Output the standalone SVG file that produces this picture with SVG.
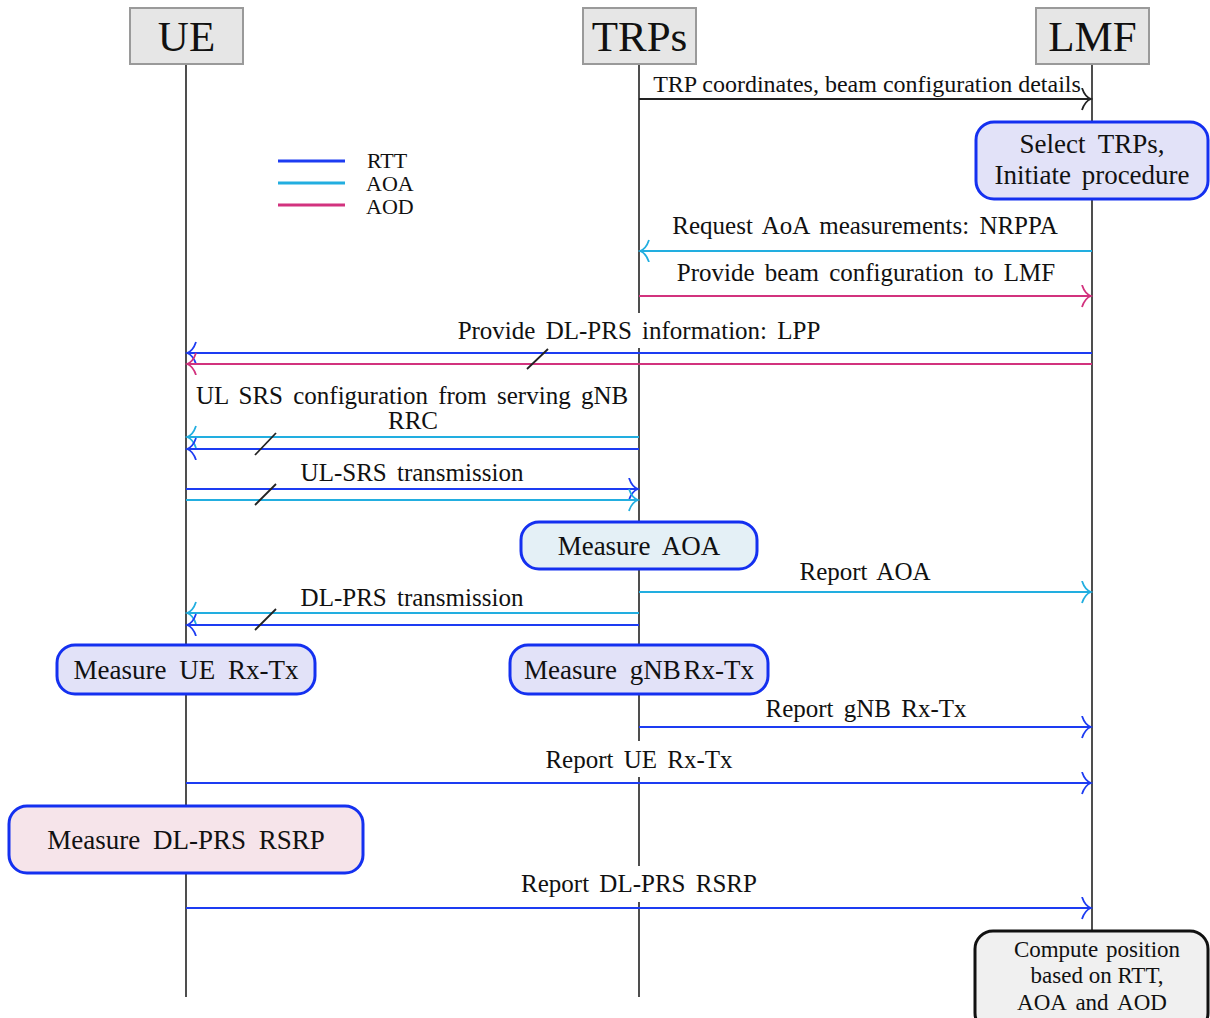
<svg xmlns="http://www.w3.org/2000/svg" width="1210" height="1018" viewBox="0 0 1210 1018">
  <style>
    text { font-family: "Liberation Serif", "Times New Roman", serif; fill: #111; }
    .hdr rect { fill: #e6e6e6; stroke: #9a9a9a; stroke-width: 2; }
    .hdr text { font-size: 43px; text-anchor: middle; }
    .life { stroke: #222; stroke-width: 1.6; fill: none; }
    .lbl { font-size: 25px; text-anchor: middle; word-spacing: 4px; }
    .bg { fill: #ffffff; stroke: none; }
    .msg { fill: none; stroke-width: 2; }
    .rtt { stroke: #1d3cf2; }
    .aoa { stroke: #22aee0; }
    .aod { stroke: #d2327e; }
    .blk { stroke: #222; }
    .slash { stroke: #222; stroke-width: 1.8; }
    .proc rect { stroke: #1430f0; stroke-width: 3; }
    .proc text { font-size: 27px; text-anchor: middle; word-spacing: 6px; }
    .note text { font-size: 23px; text-anchor: middle; word-spacing: 2px; }
  </style>
  <defs>
    <marker id="ah-blk" markerWidth="12" markerHeight="24" refX="10" refY="11" orient="auto" markerUnits="userSpaceOnUse">
      <path d="M1 0 Q4 9 10 11 Q4 13 1 22" fill="none" stroke="#222" stroke-width="1.8"/>
    </marker>
    <marker id="ah-rtt" markerWidth="12" markerHeight="24" refX="10" refY="11" orient="auto" markerUnits="userSpaceOnUse">
      <path d="M1 0 Q4 9 10 11 Q4 13 1 22" fill="none" stroke="#1d3cf2" stroke-width="1.8"/>
    </marker>
    <marker id="ah-aoa" markerWidth="12" markerHeight="24" refX="10" refY="11" orient="auto" markerUnits="userSpaceOnUse">
      <path d="M1 0 Q4 9 10 11 Q4 13 1 22" fill="none" stroke="#22aee0" stroke-width="1.8"/>
    </marker>
    <marker id="ah-aod" markerWidth="12" markerHeight="24" refX="10" refY="11" orient="auto" markerUnits="userSpaceOnUse">
      <path d="M1 0 Q4 9 10 11 Q4 13 1 22" fill="none" stroke="#d2327e" stroke-width="1.8"/>
    </marker>
  </defs>

  <!-- lifelines -->
  <g id="lifelines">
    <line class="life" x1="186" y1="64" x2="186" y2="997"/>
    <line class="life" x1="639" y1="64" x2="639" y2="997"/>
    <line class="life" x1="1092" y1="64" x2="1092" y2="1018"/>
  </g>

  <!-- participants -->
  <g id="ue" class="hdr">
    <rect x="130" y="8" width="113" height="56"/>
    <text x="186.5" y="51">UE</text>
  </g>
  <g id="trps" class="hdr">
    <rect x="583" y="8" width="113" height="56"/>
    <text x="639.5" y="51">TRPs</text>
  </g>
  <g id="lmf" class="hdr">
    <rect x="1036" y="8" width="113" height="56"/>
    <text x="1092.5" y="51">LMF</text>
  </g>

  <!-- legend -->
  <g id="legend">
    <line x1="278" y1="161" x2="345" y2="161" stroke="#1d3cf2" stroke-width="3"/>
    <line x1="278" y1="183" x2="345" y2="183" stroke="#22aee0" stroke-width="3"/>
    <line x1="278" y1="205" x2="345" y2="205" stroke="#d2327e" stroke-width="3"/>
    <text x="367" y="168" font-size="22">RTT</text>
    <text x="366" y="191" font-size="22">AOA</text>
    <text x="366" y="214" font-size="22">AOD</text>
  </g>

  <!-- messages -->
  <g id="connectors">
    <line class="msg blk" x1="639" y1="99" x2="1091" y2="99" marker-end="url(#ah-blk)"/>
    <line class="msg aoa" x1="1092" y1="251" x2="640" y2="251" marker-end="url(#ah-aoa)"/>
    <line class="msg aod" x1="639" y1="296" x2="1091" y2="296" marker-end="url(#ah-aod)"/>

    <line class="msg rtt" x1="1092" y1="353" x2="187" y2="353" marker-end="url(#ah-rtt)"/>
    <line class="msg aod" x1="1092" y1="364" x2="187" y2="364" marker-end="url(#ah-aod)"/>
    <line class="slash" x1="527" y1="369" x2="548" y2="349"/>

    <line class="msg aoa" x1="639" y1="437" x2="187" y2="437" marker-end="url(#ah-aoa)"/>
    <line class="msg rtt" x1="639" y1="449" x2="187" y2="449" marker-end="url(#ah-rtt)"/>
    <line class="slash" x1="255" y1="455" x2="276" y2="433"/>

    <line class="msg rtt" x1="186" y1="489" x2="638" y2="489" marker-end="url(#ah-rtt)"/>
    <line class="msg aoa" x1="186" y1="500" x2="638" y2="500" marker-end="url(#ah-aoa)"/>
    <line class="slash" x1="255" y1="505" x2="276" y2="484"/>

    <line class="msg aoa" x1="639" y1="592" x2="1091" y2="592" marker-end="url(#ah-aoa)"/>

    <line class="msg aoa" x1="639" y1="613" x2="187" y2="613" marker-end="url(#ah-aoa)"/>
    <line class="msg rtt" x1="639" y1="625" x2="187" y2="625" marker-end="url(#ah-rtt)"/>
    <line class="slash" x1="255" y1="630" x2="276" y2="609"/>

    <line class="msg rtt" x1="639" y1="727" x2="1091" y2="727" marker-end="url(#ah-rtt)"/>
    <line class="msg rtt" x1="186" y1="783" x2="1091" y2="783" marker-end="url(#ah-rtt)"/>
    <line class="msg rtt" x1="186" y1="908" x2="1091" y2="908" marker-end="url(#ah-rtt)"/>
  </g>

  <!-- message labels (white backing where a label sits across a lifeline) -->
  <g id="labels">
    <text class="lbl" x="867" y="92" style="font-size:24px;word-spacing:0">TRP coordinates, beam configuration details</text>
    <text class="lbl" x="865" y="234">Request AoA measurements: NRPPA</text>
    <text class="lbl" x="866" y="281">Provide beam configuration to LMF</text>
    <rect class="bg" x="455" y="313" width="370" height="35"/>
    <text class="lbl" x="639" y="339">Provide DL-PRS information: LPP</text>
    <text class="lbl" x="412" y="404">UL SRS configuration from serving gNB</text>
    <text class="lbl" x="413" y="429">RRC</text>
    <text class="lbl" x="412" y="481">UL-SRS transmission</text>
    <text class="lbl" x="865" y="580">Report AOA</text>
    <text class="lbl" x="412" y="606">DL-PRS transmission</text>
    <text class="lbl" x="866" y="717">Report gNB Rx-Tx</text>
    <rect class="bg" x="542" y="741" width="194" height="36"/>
    <text class="lbl" x="639" y="768">Report UE Rx-Tx</text>
    <rect class="bg" x="517" y="866" width="245" height="36"/>
    <text class="lbl" x="639" y="892">Report DL-PRS RSRP</text>
  </g>

  <!-- processing steps -->
  <g id="select-trps" class="proc">
    <rect x="976" y="122" width="232" height="77" rx="18" fill="#e2e2f8"/>
    <text x="1092" y="153">Select TRPs,</text>
    <text x="1092" y="184" style="word-spacing:4px">Initiate procedure</text>
  </g>
  <g id="measure-aoa" class="proc">
    <rect x="521" y="522" width="236" height="47" rx="18" fill="#e4f0f6"/>
    <text x="639" y="555">Measure AOA</text>
  </g>
  <g id="measure-ue-rxtx" class="proc">
    <rect x="57" y="645" width="258" height="49" rx="18" fill="#e2e2f8"/>
    <text x="186" y="679">Measure UE Rx-Tx</text>
  </g>
  <g id="measure-gnb-rxtx" class="proc">
    <rect x="510" y="645" width="258" height="49" rx="18" fill="#e2e2f8"/>
    <text x="639" y="679">Measure <tspan style="word-spacing:-4px">gNB Rx-Tx</tspan></text>
  </g>
  <g id="measure-rsrp" class="proc">
    <rect x="9" y="806" width="354" height="67" rx="18" fill="#f6e4ea"/>
    <text x="186" y="849">Measure DL-PRS RSRP</text>
  </g>
  <g id="compute-position" class="note">
    <rect x="975" y="931" width="233" height="100" rx="18" fill="#f0f0f0" stroke="#111" stroke-width="3"/>
    <text x="1097" y="957">Compute position</text>
    <text x="1097" y="983" style="word-spacing:0">based on RTT,</text>
    <text x="1092" y="1010" style="word-spacing:4px">AOA and AOD</text>
  </g>
</svg>
